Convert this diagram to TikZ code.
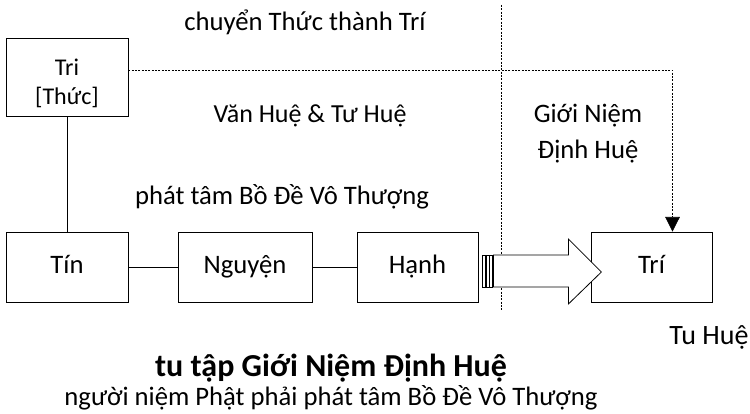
\documentclass[tikz,border=0pt]{standalone}
\usepackage{fontspec}
\setmainfont{Carlito}
\usetikzlibrary{arrows.meta}
\usetikzlibrary{calc}

\begin{document}
\begin{tikzpicture}[x=0.75pt,y=-0.75pt,line width=0.6pt,
    every node/.style={font=\fontsize{20}{24}\selectfont},
    box/.style={draw,minimum height=52.5pt,inner sep=0pt},
    step box/.style={box,text height=14pt,text depth=4pt},
    dots/.style={dash pattern=on 1.5pt off 1pt,line width=0.5pt}]

	\useasboundingbox (0,0) rectangle (750,414);

	% boxes
	\node[box,minimum width=91.5pt,minimum height=58.5pt,align=center,font=\fontsize{18}{22}\selectfont] at (67,77) (tri) {\rule{0pt}{22pt}Tri\\{}[Thức]};
	\node[step box,minimum width=91.5pt] at (67,267) (tin) {Tín};
	\node[step box,minimum width=100.5pt] at (245,267) (nguyen) {Nguyện};
	\node[step box,minimum width=90.75pt] at (417.5,267) (hanh) {Hạnh};
	\node[step box,minimum width=90.75pt] at (651.5,267) (tri2) {Trí};

	% plain links
	\draw (tri) -- (tin);
	\draw (tin) -- (nguyen);
	\draw (nguyen) -- (hanh);

	% divider
	\coordinate (divtop) at (501,5);
	\coordinate (divbot) at (501,310);
	\draw[dots] (divtop) -- (divbot);

	% dotted link into Tri
	\draw[dots,-{Triangle[width=11pt,length=11pt]}] ($(tri.east)+(0,-7)$) -| ($(tri2.north)+(21,0)$);

	% block arrow with striped tail
	\foreach \s in {4,7.5,11}
	  \draw ($(hanh.east)+(\s,-12)$) rectangle ++(3,32);
	\draw[fill=white] ($(hanh.east)+(15,-12)$) -- ++(75,0) -- ++(0,-16)
	  -- ($(hanh.east)+(123,5)$) -- ($(hanh.east)+(90,37)$) -- ++(0,-17)
	  -- ($(hanh.east)+(15,20)$) -- cycle;

	%labels
	\node at (305,22) (label1) {chuyển Thức thành Trí};
	\node[font=\fontsize{19.5}{24}\selectfont] at (310,116) (label2) {Văn Huệ \& Tư Huệ};
	\node[align=center,font=\fontsize{20}{27}\selectfont] at (588,134) (label3) {Giới Niệm\\Định Huệ};
	\node at (282,197) (label4) {phát tâm Bồ Đề Vô Thượng};
	\node[font=\fontsize{21}{24}\selectfont] at (709,337) (label5) {Tu Huệ};
	\node[font=\fontsize{24}{28}\selectfont\bfseries] at (331,368) (title) {tu tập Giới Niệm Định Huệ};
	\node at (331,398) (subtitle) {người niệm Phật phải phát tâm Bồ Đề Vô Thượng};
\end{tikzpicture}
\end{document}
